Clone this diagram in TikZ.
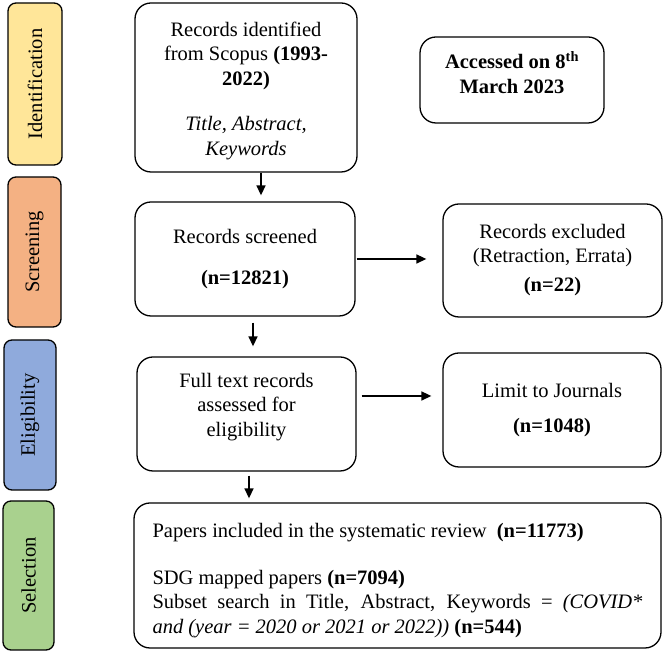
\documentclass[tikz,border=0pt]{standalone}
\usepackage{fontspec}
\setmainfont{Liberation Serif}
\usetikzlibrary{arrows.meta,calc}

\definecolor{identcol}{HTML}{FFE699}
\definecolor{screencol}{HTML}{F4B183}
\definecolor{eligcol}{HTML}{8FAADC}
\definecolor{selcol}{HTML}{A9D18E}

\begin{document}
\begin{tikzpicture}[x=1pt,y=1pt,
        every node/.style={font=\fontsize{20.5}{24.5}\selectfont, inner sep=0pt},
        phase/.style={draw, line width=1.3pt, rounded corners=8pt, rotate=90},
        flowbox/.style={draw, line width=1.3pt, rounded corners=16pt, align=center},
        arr/.style={line width=1.5pt, -{Triangle[length=10pt,width=9pt]}}]
            \useasboundingbox (0,0) rectangle (669,660);
            % phases on the left
            \node[phase, fill=identcol, minimum width=162, minimum height=54] (pident) at (35,576) {Identification};
            \node[phase, fill=screencol, minimum width=150, minimum height=53] (pscreen) at (34.5,408) {Screening};
            \node[phase, fill=eligcol, minimum width=150, minimum height=52] (pelig) at (30,245) {Eligibility};
            \node[phase, fill=selcol, minimum width=149, minimum height=51] (psel) at (28.5,84.5) {Selection};
            % boxes
            \node[flowbox, minimum width=222, minimum height=169] (idrec) at (246,572.5)
                {\rule{0pt}{20.5pt}Records identified\\ from Scopus \textbf{(1993-}\\ \textbf{2022)}\\[21pt] \textit{Title, Abstract,}\\ \textit{Keywords}};
            \node[flowbox, minimum width=184, minimum height=86, font=\fontsize{20.5}{24.5}\selectfont\bfseries] (access) at (512,580)
                {Accessed on 8\textsuperscript{th}\\ March 2023\rule[-15pt]{0pt}{15pt}};
            \node[flowbox, minimum width=220, minimum height=114] (screen) at (245,401)
                {Records screened\\[16.5pt] \textbf{(n=12821)}};
            \node[flowbox, minimum width=219, minimum height=113] (excl) at (552.5,399.5)
                {Records excluded\\[-1pt] (Retraction, Errata)\\[5pt] \textbf{(n=22)}};
            \node[flowbox, minimum width=219, minimum height=114] (full) at (246.5,246)
                {Full text records\\ assessed for\\ eligibility\rule[-18.5pt]{0pt}{18.5pt}};
            \node[flowbox, minimum width=218, minimum height=114] (limit) at (552,250)
                {Limit to Journals\\[10pt] \textbf{(n=1048)}};
            \node[flowbox, align=flush left, text width=490, minimum width=527, minimum height=145] (sel) at (397.5,84.5)
                {\rule{0pt}{24pt}Papers included in the systematic review\ \ \textbf{(n=11773)}\\[22.5pt]
                 SDG mapped papers \textbf{(n=7094)}\\
                 \makebox[490pt][s]{Subset search in Title, Abstract, Keywords = \textit{(COVID*}}\\
                 \textit{and (year = 2020 or 2021 or 2022))} \textbf{(n=544)}};
            % arrows
            \draw[arr] ([xshift=15pt]idrec.south) -- ($(idrec.south |- screen.north)+(15,6)$);
            \draw[arr] ([xshift=1pt]screen.east) -- ($(screen.east -| excl.west)+(-16,0)$);
            \draw[arr] ([xshift=8pt,yshift=-6pt]screen.south) -- ($(screen.south |- full.north)+(8,10)$);
            \draw[arr] ([xshift=5pt,yshift=18pt]full.east) -- ($(full.east -| limit.west)+(-11,18)$);
            \draw[arr] ([xshift=2.5pt,yshift=-4pt]full.south) -- ($(full.south |- sel.north)+(2.5,4)$);
        \end{tikzpicture}
\end{document}
